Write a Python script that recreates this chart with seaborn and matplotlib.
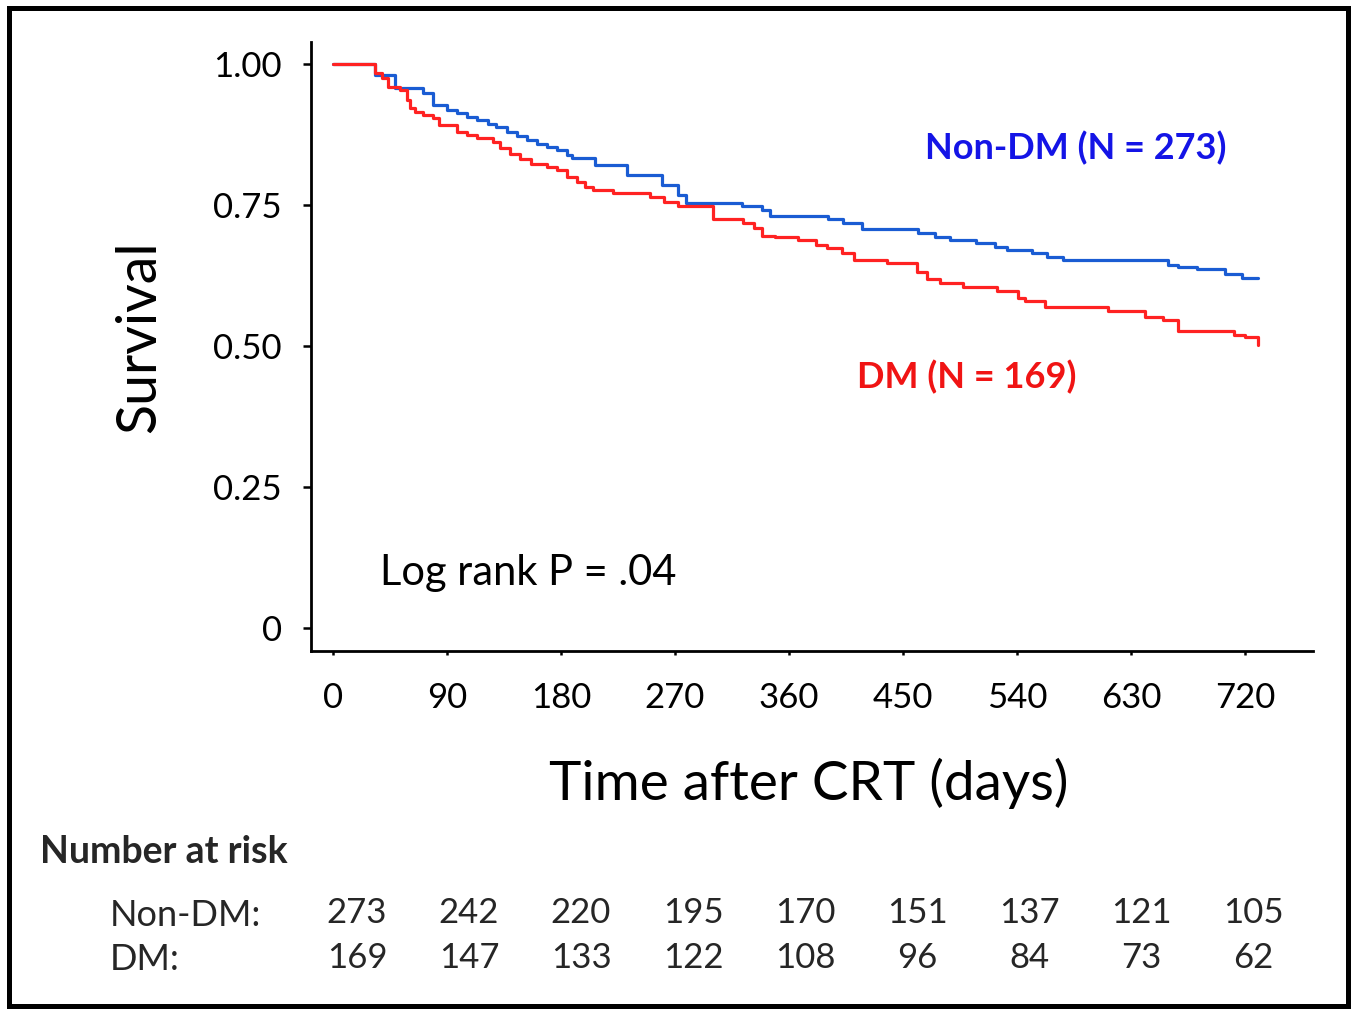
import matplotlib
matplotlib.use("Agg")
import matplotlib.pyplot as plt
from matplotlib.patches import Rectangle
import seaborn as sns
import pandas as pd

# ---------------- data ----------------
nondm_days = [0, 33, 49, 71, 79, 90, 98, 106, 114, 122, 129, 137, 145, 153, 161, 169,
              177, 185, 189, 207, 232, 260, 272, 279, 323, 339, 345, 391, 403, 418,
              462, 475, 487, 508, 523, 532, 552, 564, 576, 659, 667, 682, 704, 718, 730]
nondm_surv = [1.000, 0.980, 0.957, 0.949, 0.927, 0.918, 0.913, 0.906, 0.901, 0.894,
              0.888, 0.879, 0.872, 0.865, 0.858, 0.853, 0.848, 0.839, 0.833, 0.821,
              0.803, 0.785, 0.768, 0.754, 0.748, 0.741, 0.730, 0.725, 0.718, 0.707,
              0.700, 0.693, 0.688, 0.683, 0.676, 0.670, 0.665, 0.658, 0.652, 0.644,
              0.640, 0.637, 0.628, 0.621, 0.621]

dm_days = [0, 33, 39, 43, 53, 58, 61, 65, 71, 79, 84, 98, 106, 114, 126, 132, 140, 148,
           156, 169, 177, 185, 193, 199, 205, 221, 250, 261, 272, 300, 324, 332, 339,
           349, 367, 381, 390, 402, 411, 437, 461, 469, 479, 497, 524, 541, 546, 562,
           612, 641, 655, 667, 711, 720, 730]
dm_surv = [1.000, 0.984, 0.975, 0.959, 0.954, 0.936, 0.922, 0.915, 0.910, 0.904, 0.892,
           0.879, 0.874, 0.869, 0.862, 0.851, 0.840, 0.831, 0.823, 0.817, 0.812, 0.800,
           0.791, 0.782, 0.777, 0.771, 0.764, 0.755, 0.748, 0.725, 0.718, 0.709, 0.695,
           0.693, 0.688, 0.679, 0.674, 0.665, 0.652, 0.647, 0.631, 0.619, 0.612, 0.605,
           0.598, 0.585, 0.580, 0.569, 0.562, 0.551, 0.546, 0.527, 0.520, 0.516, 0.502]

x_ticks = [0, 90, 180, 270, 360, 450, 540, 630, 720]
y_ticks = [0, 0.25, 0.50, 0.75, 1.00]
y_tick_labels = ["0", "0.25", "0.50", "0.75", "1.00"]

risk_nondm = [273, 242, 220, 195, 170, 151, 137, 121, 105]
risk_dm = [169, 147, 133, 122, 108, 96, 84, 73, 62]

label_nondm = "Non-DM (N = 273)"
label_dm = "DM (N = 169)"
p_text = "Log rank P = .04"

# ---------------- style ----------------
sns.set_style("ticks")
FONT = ["Lato", "DejaVu Sans"]
plt.rcParams["font.family"] = FONT

W, H = 1353, 1009
fig = plt.figure(figsize=(W / 100, H / 100), dpi=100)
ax = fig.add_axes([311 / W, 1 - 651 / H, (1313 - 311) / W, (651 - 42) / H])

blue = "#1a5cd3"
red = "#ff2222"

df_n = pd.DataFrame({"day": nondm_days, "surv": nondm_surv})
df_d = pd.DataFrame({"day": dm_days, "surv": dm_surv})
sns.lineplot(data=df_n, x="day", y="surv", estimator=None, sort=False,
             drawstyle="steps-post", color=blue, lw=2.3, ax=ax)
sns.lineplot(data=df_d, x="day", y="surv", estimator=None, sort=False,
             drawstyle="steps-post", color=red, lw=2.3, ax=ax)

ax.set_xlim(-17.4, 773.7)
ax.set_ylim(-0.041, 1.039)
ax.set_xticks(x_ticks)
ax.set_xticklabels([str(t) for t in x_ticks])
ax.set_yticks(y_ticks)
ax.set_yticklabels(y_tick_labels)

for side in ["top", "right"]:
    ax.spines[side].set_visible(False)
for side in ["left", "bottom"]:
    ax.spines[side].set_linewidth(2.0)
    ax.spines[side].set_color("black")

ax.tick_params(axis="y", direction="out", length=6, width=1.8, pad=15,
               labelsize=25, colors="black")
ax.tick_params(axis="x", direction="out", length=3, width=1.8, pad=19,
               labelsize=25, colors="black")

ax.set_xlabel("Time after CRT (days)", fontsize=39.5, color="black")
ax.xaxis.label.set_va("center")
ax.xaxis.set_label_coords(0.497, -0.2167)
ax.set_ylabel("Survival", fontsize=40, color="black")
ax.yaxis.label.set_va("center")
ax.yaxis.label.set_ha("center")
ax.yaxis.set_label_coords(-0.171, 0.516)

ax.text(37, 0.0975, p_text, fontsize=30, color="black", ha="left", va="center")
ax.text(467, 0.851, label_nondm, fontsize=26, fontweight="bold", color="#1414e6",
        ha="left", va="center")
ax.text(414, 0.445, label_dm, fontsize=26, fontweight="bold", color="#f01414",
        ha="left", va="center")

# number at risk table
fig.text(40 / W, 1 - 852 / H, "Number at risk", fontsize=27, fontweight="bold",
         ha="left", va="center")
fig.text(110 / W, 1 - 915 / H, "Non-DM:", fontsize=26, ha="left", va="center")
fig.text(110 / W, 1 - 960 / H, "DM:", fontsize=26, ha="left", va="center")
for i, (a, b) in enumerate(zip(risk_nondm, risk_dm)):
    xc = (357 + i * 112) / W
    fig.text(xc, 1 - 913 / H, str(a), fontsize=25, ha="center", va="center")
    fig.text(xc, 1 - 958 / H, str(b), fontsize=25, ha="center", va="center")

# outer frame
fig.add_artist(Rectangle((8.5 / W, 1 - 1005.5 / H), (1347.5 - 8.5) / W, (1005.5 - 7.5) / H,
                         transform=fig.transFigure, fill=False, lw=3.6, ec="black"))

fig.savefig("out.png", dpi=100, facecolor="white")
